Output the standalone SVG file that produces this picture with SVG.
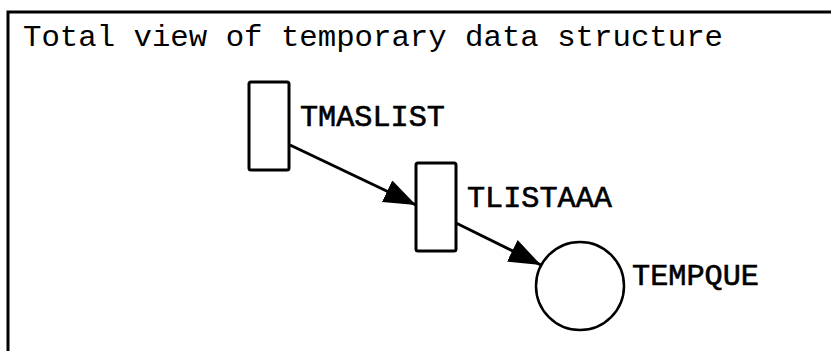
<svg xmlns="http://www.w3.org/2000/svg" width="831" height="351" viewBox="0 0 831 351">
<defs>
<style>
.frame{fill:none;stroke:#000;stroke-width:3}
.box{fill:#fff;stroke:#000;stroke-width:3}
.edge{fill:none;stroke:#000;stroke-width:3}
.t{font-family:"Liberation Mono","Courier New",monospace;font-size:30px;fill:#000}
.lbl{font-family:"Liberation Mono","Courier New",monospace;font-size:29px;fill:#000;stroke:#000;stroke-width:0.6}
</style>
<marker id="ah" markerUnits="userSpaceOnUse" markerWidth="34" markerHeight="26" refX="32" refY="12" orient="auto" viewBox="0 0 34 26">
<path d="M0,0 L32,12 L0,24 z" fill="#000"/>
</marker>
</defs>
<rect width="831" height="351" fill="#fff"/>
<g id="frame">
<path class="frame" d="M8,351 L8,12 L831,12"/>
</g>
<text class="t" x="23" y="46" textLength="700" lengthAdjust="spacingAndGlyphs">Total view of temporary data structure</text>
<g id="connectors">
<line class="edge" x1="290" y1="145" x2="416" y2="205" marker-end="url(#ah)"/>
<line class="edge" x1="456" y1="223" x2="541" y2="265" marker-end="url(#ah)"/>
</g>
<g id="TMASLIST">
<rect class="box" x="249" y="82" width="40" height="88" rx="2"/>
<text class="lbl" x="300" y="126" textLength="145" lengthAdjust="spacingAndGlyphs">TMASLIST</text>
</g>
<g id="TLISTAAA">
<rect class="box" x="416" y="163" width="40" height="88" rx="2"/>
<text class="lbl" x="467" y="207" textLength="145" lengthAdjust="spacingAndGlyphs">TLISTAAA</text>
</g>
<g id="TEMPQUE">
<circle cx="580" cy="286" r="44" fill="#fff" stroke="#000" stroke-width="2.5"/>
<text class="lbl" x="632" y="285" textLength="127" lengthAdjust="spacingAndGlyphs">TEMPQUE</text>
</g>
</svg>
